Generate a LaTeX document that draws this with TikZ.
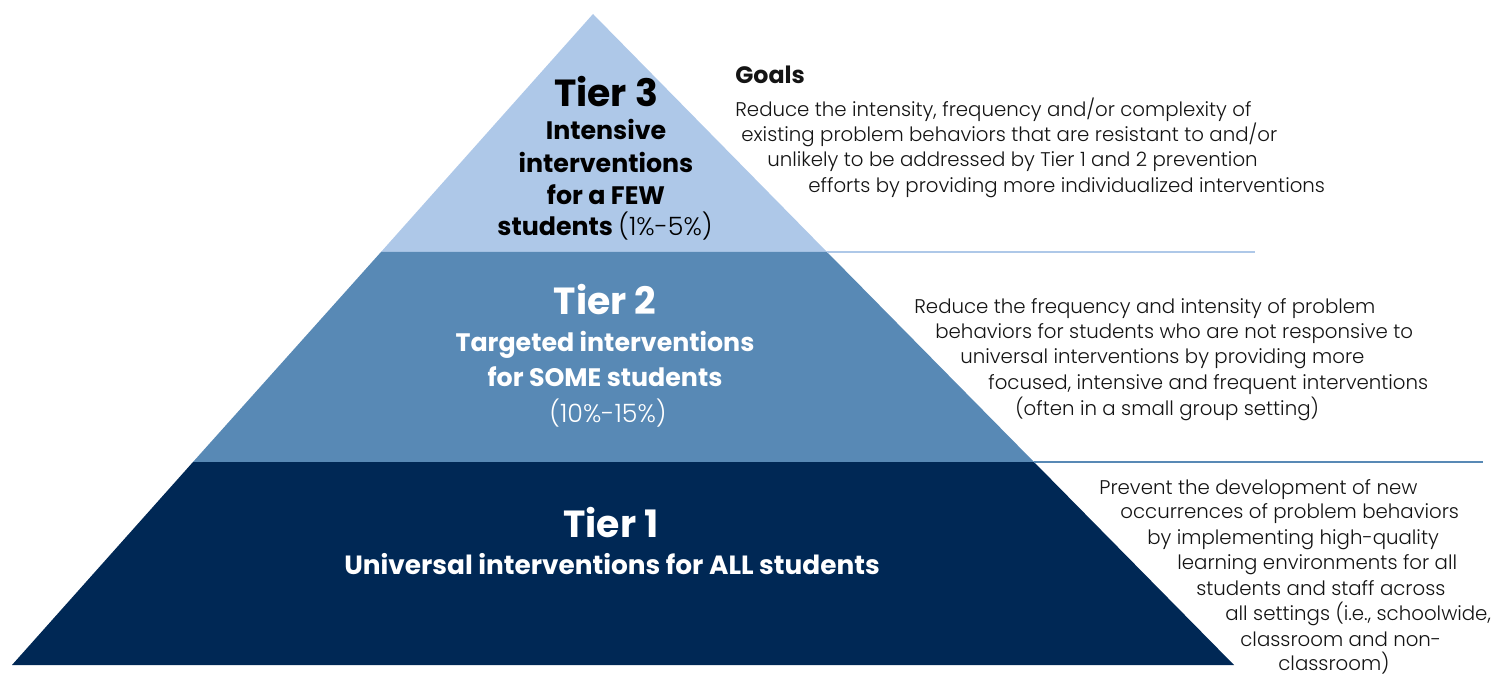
\documentclass[tikz,border=0pt]{standalone}
\usepackage{fontspec}
\setmainfont{Poppins}
\newfontfamily\thinfont{Poppins Light}
\usepackage{tikz}

\definecolor{tierone}{RGB}{0,40,85}
\definecolor{tiertwo}{RGB}{88,137,181}
\definecolor{tierthree}{RGB}{174,200,232}
\definecolor{bodyink}{RGB}{20,20,20}

\tikzset{
  tiername/.style={inner sep=0pt, anchor=base, font=\fontsize{21.5}{26}\selectfont\bfseries},
  tierline/.style={inner sep=0pt, anchor=base, font=\fontsize{14.4}{18}\selectfont\bfseries},
  goalline/.style={inner sep=0pt, anchor=base west, text=bodyink, font=\thinfont\fontsize{11.25}{13}\selectfont},
}

\begin{document}
\begin{tikzpicture}[x=0.02cm, y=-0.02cm]
      \useasboundingbox (0, 0) rectangle (1491, 675);

      % pyramid corners and tier cuts
      \coordinate (apex) at (593, 14);
      \coordinate (cutAl) at (381, 252);
      \coordinate (cutAr) at (827, 252);
      \coordinate (cutBl) at (193, 462);
      \coordinate (cutBr) at (1034, 462);
      \coordinate (baseL) at (12, 665);
      \coordinate (baseR) at (1234, 665);
      \coordinate (ruleA) at (1255, 252);
      \coordinate (ruleB) at (1483, 462);

      \fill[tierthree] (apex) -- (cutAr) -- (cutAl) -- cycle;
      \fill[tiertwo] (cutAl) -- (cutAr) -- (cutBr) -- (cutBl) -- cycle;
      \fill[tierone] (cutBl) -- (cutBr) -- (baseR) -- (baseL) -- cycle;
      \draw[tierthree, line width=1.7pt] (cutAr) -- (ruleA);
      \draw[tiertwo, line width=1.1pt] (cutBr) -- (ruleB);

      % tier labels
      \node[tiername] (t3) at (606, 107) {Tier 3};
      \node[tierline] (t3a) at (606, 140) {Intensive};
      \node[tierline] (t3b) at (606, 173) {interventions};
      \node[tierline] (t3c) at (606, 205) {for a FEW};
      \node[tierline] (t3d) at (605, 236) {students {\thinfont\mdseries (1\%-5\%)}};

      \node[tiername, text=white] (t2) at (605, 315) {Tier 2};
      \node[tierline, text=white] (t2a) at (605, 352) {Targeted interventions};
      \node[tierline, text=white] (t2b) at (605, 387) {for SOME students};
      \node[tierline, text=white, font=\thinfont\fontsize{14.4}{18}\selectfont] (t2c) at (608, 422) {(10\%-15\%)};

      \node[tiername, text=white] (t1) at (611, 537) {Tier 1};
      \node[tierline, text=white, font=\fontsize{15}{18}\selectfont\bfseries] (t1a) at (612, 574) {Universal interventions for ALL students};

      % goals for tier 3
      \node[goalline, font=\fontsize{13.5}{15}\selectfont\bfseries] (goals) at (735, 84) {Goals};
      \node[goalline] (g3a) at (735, 117) {Reduce the intensity, frequency and/or complexity of};
      \node[goalline] (g3b) at (741, 142) {existing problem behaviors that are resistant to and/or};
      \node[goalline] (g3c) at (767, 167) {unlikely to be addressed by Tier 1 and 2 prevention};
      \node[goalline] (g3d) at (808, 193) {efforts by providing more individualized interventions};

      % goals for tier 2
      \node[goalline] (g2a) at (914, 314) {Reduce the frequency and intensity of problem};
      \node[goalline] (g2b) at (935, 339) {behaviors for students who are not responsive to};
      \node[goalline] (g2c) at (960, 364) {universal interventions by providing more};
      \node[goalline] (g2d) at (988, 390) {focused, intensive and frequent interventions};
      \node[goalline] (g2e) at (1015, 416) {(often in a small group setting)};

      % goals for tier 1
      \node[goalline] (g1a) at (1099, 494) {Prevent the development of new};
      \node[goalline] (g1b) at (1120, 518) {occurrences of problem behaviors};
      \node[goalline] (g1c) at (1147, 544) {by implementing high-quality};
      \node[goalline] (g1d) at (1177, 569) {learning environments for all};
      \node[goalline] (g1e) at (1196, 595) {students and staff across};
      \node[goalline] (g1f) at (1225, 620) {all settings (i.e., schoolwide,};
      \node[goalline] (g1g) at (1240, 646) {classroom and non-};
      \node[goalline] (g1h) at (1278, 670) {classroom)};
\end{tikzpicture}
\end{document}
